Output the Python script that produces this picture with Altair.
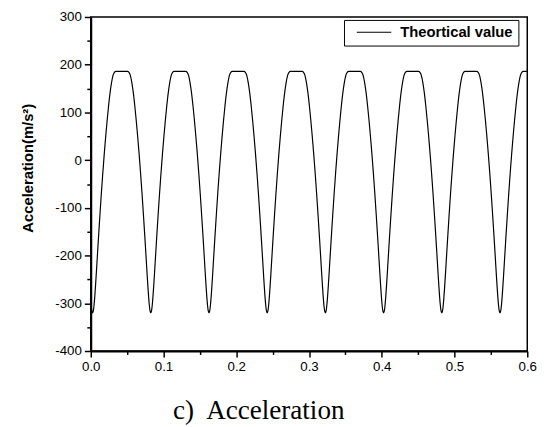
import altair as alt
import pandas as pd

# One period of the curve: offset from a minimum (s) and acceleration (m/s^2)
period_offsets = [0.000, 0.001, 0.002, 0.003, 0.004, 0.005, 0.006, 0.008, 0.010, 0.012,
                  0.014, 0.016, 0.018, 0.020, 0.022, 0.024, 0.026, 0.028, 0.030, 0.032,
                  0.040,
                  0.048, 0.050, 0.052, 0.054, 0.056, 0.058, 0.060, 0.062, 0.064, 0.066,
                  0.068, 0.070, 0.072, 0.074, 0.075, 0.076, 0.077, 0.078, 0.079, 0.080]
period_values = [-320, -316, -304, -286, -264, -240, -215, -165, -117, -71,
                 -28, 12, 49, 83, 114, 141, 162, 177, 184, 186,
                 186,
                 186, 184, 177, 162, 141, 114, 83, 49, 12, -28,
                 -71, -117, -165, -215, -240, -264, -286, -304, -316, -320]
# positions of the minima (first one lies just left of 0)
minima = [-0.0775, 0.0025, 0.0825, 0.1625, 0.2425, 0.3225, 0.4025, 0.4825, 0.5625]

series_name = "Theortical value"
x_major = [0.0, 0.1, 0.2, 0.3, 0.4, 0.5, 0.6]
x_minor = [0.05, 0.15, 0.25, 0.35, 0.45, 0.55]
y_major = [-400, -300, -200, -100, 0, 100, 200, 300]
y_minor = [-350, -250, -150, -50, 50, 150, 250]

rows = []
for m in minima:
    for d, v in zip(period_offsets, period_values):
        rows.append({"t": round(m + d, 5), "a": v, "series": series_name})
df = pd.DataFrame(rows).drop_duplicates(subset="t").sort_values("t")

xscale = alt.Scale(domain=[0, 0.6], nice=False, zero=False)
yscale = alt.Scale(domain=[-400, 300], nice=False, zero=False)

LAB = dict(labelFont="Liberation Sans", labelFontSize=13.5, labelColor="black")

line = alt.Chart(df).mark_line(color="black", strokeWidth=1.2, clip=True,
                               interpolate="monotone").encode(
    x=alt.X("t:Q", scale=xscale,
            axis=alt.Axis(values=x_major, labelExpr="format(datum.value, '.1f')",
                          title=None, tickSize=6,
                          tickWidth=1.5, tickColor="black", domainColor="black",
                          domainWidth=2, labelPadding=3, grid=False, orient="bottom",
                          labelFlush=False, labelOverlap=False, **LAB)),
    y=alt.Y("a:Q", scale=yscale,
            axis=alt.Axis(values=y_major, labelExpr="'' + datum.value",
                          title="Acceleration(m/s²)",
                          tickSize=6.5, tickWidth=1.5, tickColor="black",
                          domainColor="black", domainWidth=2, labelPadding=3,
                          grid=False, orient="left", labelFlush=False,
                          labelOverlap=False,
                          titleFont="Liberation Sans", titleFontSize=15,
                          titleFontWeight="bold", titleColor="black",
                          titleAngle=270, titleX=-64, titleY=153,
                          titleAlign="center", titleBaseline="middle", **LAB)),
    color=alt.Color("series:N", scale=alt.Scale(range=["black"]),
                    legend=alt.Legend(title=None, orient="none", legendX=257,
                                      legendY=3, symbolType="stroke",
                                      symbolSize=1225, symbolStrokeWidth=1.2,
                                      symbolOffset=7, labelOffset=8,
                                      clipHeight=15,
                                      labelFont="Liberation Sans",
                                      labelFontSize=15, labelFontWeight="bold",
                                      labelColor="black", strokeColor="black",
                                      fillColor="white", padding=5,
                                      cornerRadius=0)),
)

minor = alt.Chart(df).mark_line(opacity=0).encode(
    x=alt.X("t:Q", scale=xscale,
            axis=alt.Axis(values=x_minor, labels=False, domain=False, title=None,
                          tickSize=3.5, tickWidth=1.5, tickColor="black",
                          grid=False, orient="bottom")),
    y=alt.Y("a:Q", scale=yscale,
            axis=alt.Axis(values=y_minor, labels=False, domain=False, title=None,
                          tickSize=4, tickWidth=1.5, tickColor="black",
                          grid=False, orient="left")),
)

chart = alt.layer(line, minor).resolve_axis(x="independent", y="independent").properties(
    width=443, height=339,
    autosize=alt.AutoSizeParams(type="none"),
    padding={"left": 84, "top": 6, "right": 18, "bottom": 74},
    title=alt.TitleParams(text="c)\u00a0 Acceleration", orient="bottom",
                          anchor="middle", dx=-51, offset=24,
                          font="Liberation Serif", fontSize=27.5,
                          fontWeight="normal", color="black"),
).configure_view(stroke="black", strokeWidth=1.5)

chart.save("out.html", embed_options={"renderer": "svg", "actions": False})
